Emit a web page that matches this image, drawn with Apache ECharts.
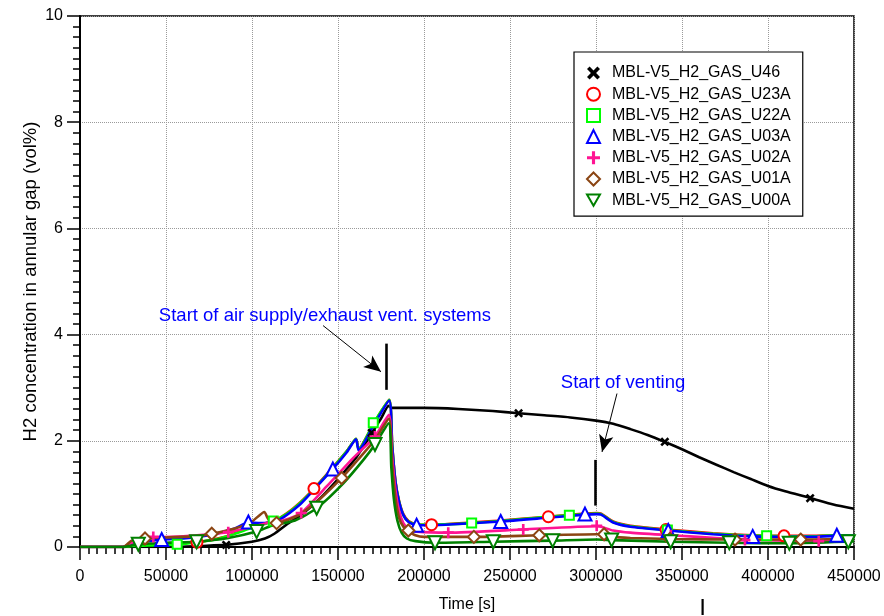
<!DOCTYPE html>
<html><head><meta charset="utf-8">
<script src="https://cdn.jsdelivr.net/npm/echarts@6/dist/echarts.min.js"></script>
<style>html,body{margin:0;padding:0;background:#fff}#c{width:884px;height:616px}</style>
</head><body><div id="c"></div>
<script>
// ---------- data ----------
const seriesNames = ['MBL-V5_H2_GAS_U46','MBL-V5_H2_GAS_U23A','MBL-V5_H2_GAS_U22A','MBL-V5_H2_GAS_U03A','MBL-V5_H2_GAS_U02A','MBL-V5_H2_GAS_U01A','MBL-V5_H2_GAS_U00A'];
const xTicks = [0,50000,100000,150000,200000,250000,300000,350000,400000,450000];
const yTicks = [0,2,4,6,8,10];

const u46Line = [[0,0],[25000,0],[55000,0],[70000,0.02],[85000,0.04],[100000,0.1],[107500,0.16],[113000,0.25],[120000,0.42],[130000,0.64],[140000,0.93],[150000,1.28],[160000,1.66],[170000,2.16],[175000,2.42],[179500,2.66],[181000,2.62],[200000,2.62],[220000,2.6],[240000,2.56],[255000,2.52],[270000,2.48],[285000,2.44],[300000,2.38],[310000,2.32],[320000,2.22],[330000,2.11],[340000,1.98],[350000,1.84],[360000,1.69],[370000,1.55],[380000,1.41],[390000,1.28],[400000,1.15],[410000,1.05],[425000,0.92],[438000,0.8],[450000,0.72]];
const u23aLine = [[0,0],[25000,0],[30000,0.03],[50000,0.06],[68000,0.09],[85000,0.2],[100000,0.38],[113000,0.5],[120000,0.63],[128000,0.84],[136000,1.1],[147000,1.5],[155000,1.8],[160500,2.04],[162000,1.85],[170500,2.31],[179800,2.77],[181500,1.92],[183500,1.22],[185500,0.87],[188000,0.62],[191000,0.49],[195700,0.43],[204400,0.42],[244600,0.5],[272300,0.57],[293600,0.63],[300400,0.64],[303000,0.63],[310000,0.48],[320000,0.4],[340700,0.33],[368000,0.26],[391100,0.22],[409300,0.21],[426000,0.21],[437900,0.22],[450000,0.22]];
const u22aLine = [[0,0],[25000,0],[30000,0.02],[56500,0.05],[80000,0.15],[100000,0.36],[112400,0.49],[120000,0.62],[128000,0.83],[136000,1.09],[147000,1.49],[155000,1.8],[160500,2.04],[162000,1.84],[170500,2.32],[179800,2.77],[181500,1.92],[183500,1.2],[185500,0.86],[188000,0.6],[191000,0.48],[195700,0.42],[227700,0.45],[284500,0.6],[300400,0.63],[303000,0.62],[310000,0.47],[320000,0.39],[341500,0.32],[368000,0.25],[399200,0.21],[426000,0.2],[437900,0.22],[450000,0.22]];
const u03aLine = [[0,0],[25000,0],[30000,0.06],[47500,0.14],[60000,0.16],[75000,0.22],[90000,0.35],[97900,0.46],[105000,0.45],[110000,0.46],[116300,0.52],[127900,0.8],[136000,1.08],[147000,1.47],[155000,1.78],[160500,2.03],[162000,1.82],[170500,2.28],[179800,2.76],[181500,1.9],[183500,1.2],[185500,0.85],[188000,0.6],[191000,0.47],[195700,0.41],[203500,0.41],[244600,0.48],[271300,0.55],[293600,0.61],[300400,0.62],[303000,0.61],[310000,0.46],[320000,0.38],[342000,0.31],[368000,0.24],[391100,0.2],[426000,0.19],[437900,0.21],[450000,0.21]];
const u02aLine = [[0,0],[25000,0],[30000,0.08],[42600,0.18],[60000,0.2],[86200,0.28],[100000,0.38],[110000,0.46],[118000,0.5],[128600,0.64],[143400,1.14],[158900,1.68],[171500,2.08],[179600,2.49],[181500,1.7],[183500,1.05],[185500,0.68],[188000,0.45],[191000,0.34],[196000,0.29],[214100,0.27],[257700,0.33],[300400,0.39],[303000,0.38],[310000,0.31],[320000,0.27],[343500,0.22],[370000,0.17],[386600,0.14],[410000,0.12],[429500,0.11],[450000,0.12]];
const u01aLine = [[0,0],[25000,0],[30000,0.12],[37800,0.16],[50000,0.18],[66900,0.2],[76600,0.25],[90000,0.35],[100000,0.48],[107200,0.66],[109000,0.55],[111400,0.45],[114300,0.45],[120000,0.5],[128000,0.62],[140000,0.92],[152100,1.3],[162000,1.66],[171500,2.02],[179600,2.42],[181500,1.55],[183500,0.9],[185500,0.55],[188000,0.38],[190900,0.3],[195000,0.22],[200000,0.19],[229000,0.19],[267000,0.22],[300400,0.24],[304700,0.24],[310000,0.19],[320000,0.17],[343000,0.15],[380800,0.14],[420000,0.14],[450000,0.16]];
const u00aLine = [[0,0],[25000,0],[30000,0.03],[33900,0.05],[50000,0.08],[67800,0.1],[86200,0.17],[102700,0.29],[111400,0.4],[125000,0.5],[137600,0.73],[153100,1.2],[165000,1.65],[171500,1.93],[179500,2.33],[181000,1.5],[182500,0.9],[184500,0.5],[187000,0.27],[190000,0.16],[195000,0.11],[206400,0.08],[240300,0.1],[274800,0.12],[300400,0.14],[309100,0.13],[343400,0.1],[377500,0.08],[412400,0.07],[446700,0.1],[450000,0.11]];

const u46Marks = [[85000,0.04],[169600,2.15],[255000,2.52],[340000,1.98],[424500,0.92]];
const u23aMarks = [[68000,0.09],[136000,1.1],[204400,0.42],[272300,0.57],[340700,0.33],[409300,0.21]];
const u22aMarks = [[56500,0.05],[112400,0.49],[170500,2.34],[227700,0.45],[284500,0.6],[341500,0.32],[399200,0.21]];
const u03aMarks = [[47500,0.14],[97900,0.47],[147000,1.47],[195700,0.41],[244600,0.48],[293600,0.62],[342000,0.31],[391100,0.2],[440000,0.22]];
const u02aMarks = [[42600,0.19],[86200,0.28],[128600,0.64],[171500,2.08],[214100,0.27],[257700,0.33],[300400,0.4],[343500,0.22],[386600,0.13],[429500,0.11]];
const u01aMarks = [[37800,0.16],[76600,0.25],[114300,0.45],[152100,1.3],[190900,0.31],[229000,0.19],[267000,0.22],[304700,0.24],[343000,0.15],[380800,0.14],[419000,0.14]];
const u00aMarks = [[33900,0.05],[67800,0.1],[102700,0.29],[137600,0.73],[171500,1.93],[206400,0.08],[240300,0.1],[274800,0.12],[309100,0.13],[343400,0.1],[377500,0.08],[412400,0.07],[446700,0.1]];

// annotation anchors (data coordinates)
const note1 = {text:'Start of air supply/exhaust vent. systems', at:[142400,4.36]};
const note1Arrow = [[141300,4.17],[175000,3.3]];
const note1Bar = [[178300,3.83],[178300,2.96]];
const note2 = {text:'Start of venting', at:[315700,3.09]};
const note2Arrow = [[312200,2.89],[303500,1.79]];
const note2Bar = [[299400,1.64],[299400,0.78]];

// ---------- styles ----------
const FONT = 'Liberation Sans, Arial, sans-serif';
const colors = ['#000000','#ff0000','#00ff00','#0000ff','#ff1493','#8b4513','#008000'];
const CROSS = 'path://M0,2L2,0L5,3L8,0L10,2L7,5L10,8L8,10L5,7L2,10L0,8L3,5Z';
const PLUS = 'path://M3.8,0H6.2V3.8H10V6.2H6.2V10H3.8V6.2H0V3.8H3.8Z';
const DOWNTRI = 'path://M0,0L10,0L5,8.7Z';
const symbols = [
  {s:CROSS, size:9, rot:0},
  {s:'emptyCircle', size:11, rot:0},
  {s:'emptyRect', size:9, rot:0},
  {s:'emptyTriangle', size:13, rot:0},
  {s:PLUS, size:11, rot:0},
  {s:'emptyDiamond', size:12, rot:0},
  {s:'emptyTriangle', size:13, rot:180}
];
const legendIcons = [CROSS,'emptyCircle','emptyRect','emptyTriangle',PLUS,'emptyDiamond',DOWNTRI];
const lines = [u46Line,u23aLine,u22aLine,u03aLine,u02aLine,u01aLine,u00aLine];
const marks = [u46Marks,u23aMarks,u22aMarks,u03aMarks,u02aMarks,u01aMarks,u00aMarks];

const series = [];
lines.forEach((d,i)=>{
  series.push({
    name: seriesNames[i], type:'line', data:d, showSymbol:false, symbol:'none',
    smooth:0.2, z:2+i,
    lineStyle:{color:colors[i], width:2.6},
    itemStyle:{color:colors[i]}
  });
});
marks.forEach((d,i)=>{
  series.push({
    name: seriesNames[i], type:'scatter', data:d, symbol:symbols[i].s,
    symbolSize:symbols[i].size, symbolRotate:symbols[i].rot, z:20+i,
    itemStyle:{color:colors[i], opacity:1}
  });
});

const lineEnd = (a, arrow) => [
  {coord:a[0], symbol:'none'},
  {coord:a[1], symbol: arrow ? 'arrow' : 'none', symbolSize: arrow ? [11,17] : 0}
];
series.push({
  name:'annotations', type:'line', data:[], z:30, silent:true,
  markLine:{
    silent:true, animation:false, symbol:['none','none'],
    label:{show:false},
    emphasis:{disabled:true},
    data:[lineEnd(note1Arrow,true), lineEnd(note2Arrow,true)],
    lineStyle:{color:'#000', width:1, type:'solid'}
  },
  markPoint:{
    silent:true, animation:false, symbol:'circle', symbolSize:1,
    itemStyle:{color:'rgba(0,0,0,0)'},
    label:{show:true, position:'inside', color:'#0000ff', fontSize:18.5, fontFamily:FONT},
    data:[
      {coord:note1.at, label:{formatter:note1.text}},
      {coord:note2.at, label:{formatter:note2.text}}
    ]
  }
});
series.push({
  name:'annotationBars', type:'line', data:[], z:30, silent:true,
  markLine:{
    silent:true, animation:false, symbol:['none','none'],
    label:{show:false},
    emphasis:{disabled:true},
    data:[lineEnd(note1Bar,false), lineEnd(note2Bar,false)],
    lineStyle:{color:'#000', width:2.6, type:'solid'}
  }
});

const axisCommon = {
  axisLine:{show:true, onZero:false, lineStyle:{color:'#000', width:2}},
  axisTick:{show:true, length:13, lineStyle:{color:'#000', width:1.5}},
  minorTick:{show:true, splitNumber:10, length:7, lineStyle:{color:'#000', width:1.5}},
  splitLine:{show:true, lineStyle:{color:'#9a9a9a', type:'dotted', width:1}},
  minorSplitLine:{show:false},
  nameMoveOverlap:false
};

const option = {
  animation:false,
  backgroundColor:'#fff',
  textStyle:{fontFamily:FONT},
  grid:{left:80, right:30, top:16, bottom:69, show:true, borderColor:'#000', borderWidth:1.5,
        backgroundColor:'rgba(0,0,0,0)', containLabel:false, outerBoundsMode:'none'},
  legend:{
    show:true, orient:'vertical', left:574, top:52,
    padding:[13,12,8,12], itemGap:5.2, itemWidth:13, itemHeight:13,
    symbolKeepAspect:true,
    backgroundColor:'#fff', borderColor:'#000', borderWidth:1.2, borderRadius:0,
    textStyle:{fontSize:16, fontFamily:FONT, color:'#000', padding:[0,0,0,7]},
    selectedMode:false,
    data: seriesNames.map((n,i)=>{
      const it = {name:n, icon:legendIcons[i]};
      if (i===6) it.itemStyle = {color:'#fff', borderColor:colors[i], borderWidth:2};
      return it;
    })
  },
  xAxis:Object.assign({}, axisCommon, {
    type:'value', min:xTicks[0], max:xTicks[xTicks.length-1], interval:xTicks[1]-xTicks[0],
    name:'Time [s]', nameLocation:'middle', nameGap:50,
    nameTextStyle:{fontSize:16, color:'#000', fontFamily:FONT},
    axisLabel:{fontSize:16, color:'#000', margin:22, fontFamily:FONT, formatter:(v)=>String(v)}
  }),
  yAxis:Object.assign({}, axisCommon, {
    type:'value', min:yTicks[0], max:yTicks[yTicks.length-1], interval:yTicks[1]-yTicks[0],
    name:'H2 concentration in annular gap (vol%)', nameLocation:'middle', nameGap:40,
    nameTextStyle:{fontSize:18.5, color:'#000', fontFamily:FONT},
    axisLabel:{fontSize:16, color:'#000', margin:17, fontFamily:FONT, formatter:(v)=>String(v)}
  }),
  graphic:[{type:'rect', shape:{x:701.5, y:599, width:2.2, height:16}, style:{fill:'#000'}, silent:true}],
  series: series
};
const chart = echarts.init(document.getElementById('c'), null, {renderer:'canvas'});
chart.setOption(option);
</script></body></html>
